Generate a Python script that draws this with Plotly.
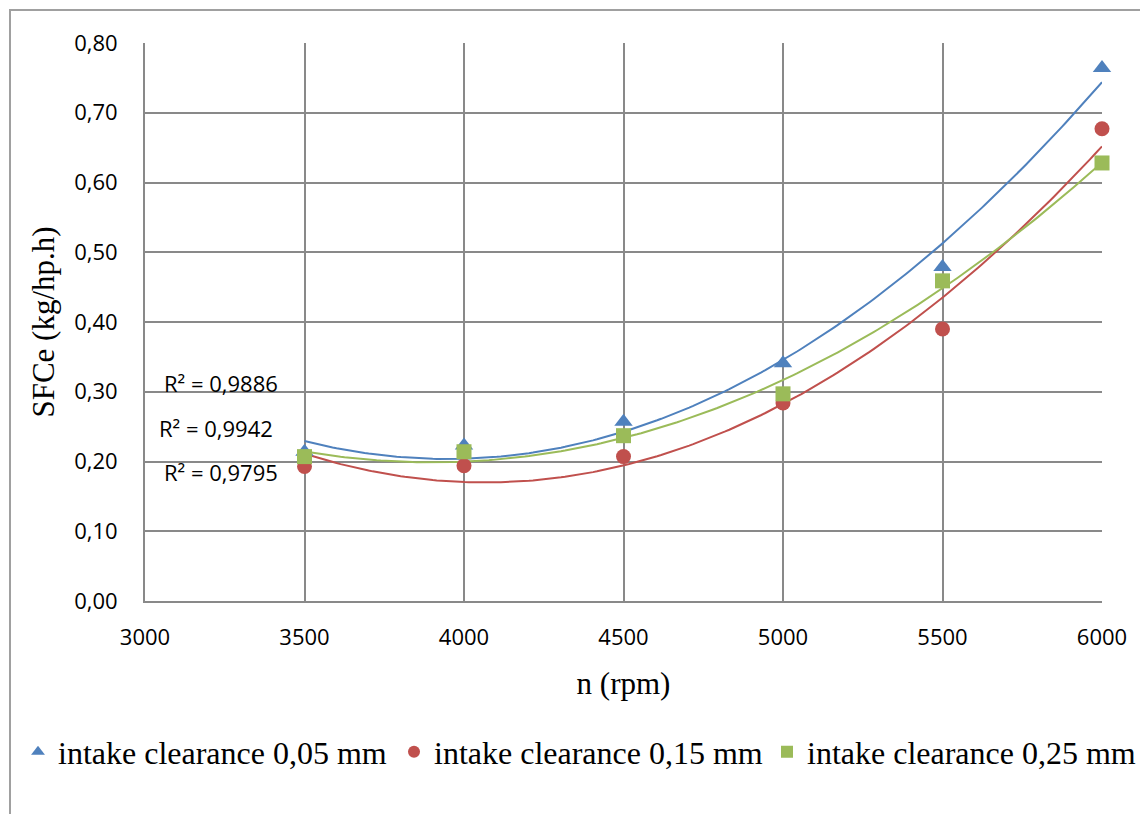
import numpy as np
import plotly.graph_objects as go

rpm = [3500, 4000, 4500, 5000, 5500, 6000]
sfc_005 = [0.214, 0.223, 0.257, 0.341, 0.479, 0.764]
sfc_015 = [0.193, 0.194, 0.207, 0.284, 0.390, 0.677]
sfc_025 = [0.207, 0.214, 0.237, 0.297, 0.459, 0.628]

series_names = ["intake clearance 0,05 mm", "intake clearance 0,15 mm", "intake clearance 0,25 mm"]
colors = ["#4F81BD", "#C0504D", "#9BBB59"]
symbols = ["triangle-up", "circle", "square"]
r2_labels = ["R² = 0,9886", "R² = 0,9942", "R² = 0,9795"]
r2_y = [0.312, 0.248, 0.185]
r2_x = [3238, 3223, 3238]

x_ticks = [3000, 3500, 4000, 4500, 5000, 5500, 6000]
y_ticks = [0.0, 0.1, 0.2, 0.3, 0.4, 0.5, 0.6, 0.7, 0.8]

# plot area in pixels: left 145, right 1102, top 43, bottom 601
PW, PH = 957, 558
def px(xp):
    return (xp - 145) / PW
def py(yp):
    return (601 - yp) / PH

legend_ids = ["legend", "legend2", "legend3"]
legend_left_px = [18, 394, 767]

fig = go.Figure()
all_series = [sfc_005, sfc_015, sfc_025]

# polynomial (order 2) trendlines, drawn beneath the markers
xs = np.linspace(rpm[0], rpm[-1], 200)
for vals, col in zip(all_series, colors):
    coef = np.polyfit(rpm, vals, 2)
    fig.add_trace(go.Scatter(
        x=xs, y=np.polyval(coef, xs), mode="lines", showlegend=False,
        line=dict(color=col, width=2), hoverinfo="skip",
    ))

for name, vals, col, sym, lid in zip(series_names, all_series, colors, symbols, legend_ids):
    fig.add_trace(go.Scatter(
        x=rpm, y=vals, mode="markers", name=name, legend=lid, cliponaxis=False,
        marker=dict(symbol=sym, color=col, size=16 if sym == "triangle-up" else 15, line=dict(width=0)),
    ))

for txt, yy, xx in zip(r2_labels, r2_y, r2_x):
    fig.add_annotation(x=xx, y=yy, text=txt, showarrow=False, xanchor="center", yanchor="middle",
                       font=dict(family="Open Sans", size=22, color="#000"))

legend_font = dict(family="Liberation Serif", size=32, color="#000")
legend_layout = {}
for lid, lx in zip(legend_ids, legend_left_px):
    legend_layout[lid] = dict(orientation="h", x=px(lx), xanchor="left", y=py(752), yanchor="middle",
                              font=legend_font, bgcolor="rgba(0,0,0,0)", itemsizing="constant")

grid = "#898989"
fig.update_layout(
    width=1140, height=814,
    margin=dict(l=145, r=38, t=43, b=213, autoexpand=False),
    paper_bgcolor="white", plot_bgcolor="white",
    separators=", ",
    showlegend=True,
    xaxis=dict(range=[3000, 6000], tickvals=x_ticks, tickformat="d",
               showgrid=True, gridcolor=grid, gridwidth=2,
               showline=True, linecolor=grid, linewidth=2,
               zeroline=False, ticks="", ticklabelstandoff=16,
               tickfont=dict(family="Open Sans", size=22, color="#000"),
               title=dict(text="n (rpm)", standoff=22,
                          font=dict(family="Liberation Serif", size=31, color="#000"))),
    yaxis=dict(range=[0, 0.8], tickvals=y_ticks, tickformat=".2f",
               showgrid=True, gridcolor=grid, gridwidth=2,
               showline=True, linecolor=grid, linewidth=2,
               zeroline=False, ticks="", ticklabelstandoff=21,
               tickfont=dict(family="Open Sans", size=22, color="#000"),
               title=dict(text="SFCe (kg/hp.h)", standoff=10,
                          font=dict(family="Liberation Serif", size=31, color="#000"))),
    shapes=[dict(type="rect", xref="paper", yref="paper",
                 x0=px(10), x1=px(1160), y0=py(830), y1=py(10),
                 line=dict(color="#A0A0A0", width=2), fillcolor="rgba(0,0,0,0)", layer="below")],
    **legend_layout,
)

fig.write_html("out.html")
